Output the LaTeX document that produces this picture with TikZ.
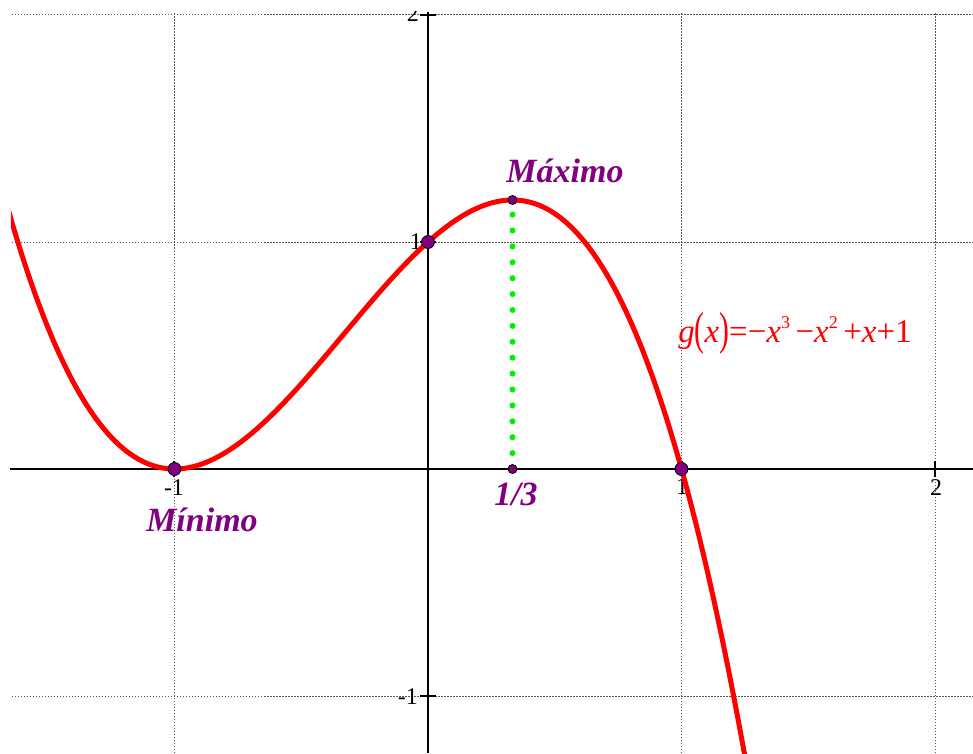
\documentclass[tikz,border=0pt]{standalone}
\usepackage{fontspec}
\setmainfont{Liberation Serif}
\usepackage{graphicx}
\definecolor{purp}{RGB}{128,0,128}
\definecolor{grn}{RGB}{0,240,0}
\newcommand\mysupr[1]{\raisebox{0.42em}{\fontsize{18}{18}\selectfont #1}}
\newcommand\mypar[1]{\raisebox{-0.08em}{\scalebox{0.9}[1.4]{#1}}}
\begin{document}
\begin{tikzpicture}[x=1pt,y=1pt,
 gridline/.style={black!65, line width=1pt, dash pattern=on 1.5pt off 1.5pt},
 axisline/.style={black, line width=2.8pt},
 tickline/.style={black, line width=2pt},
 ticklab/.style={font=\fontsize{24}{24}\selectfont, inner sep=0pt},
 ptlarge/.style={circle, fill=purp, draw=black, line width=0.8pt, minimum size=13pt, inner sep=0pt},
 ptsmall/.style={circle, fill=purp, draw=black, line width=0.8pt, minimum size=9pt, inner sep=0pt},
 biglab/.style={text=purp, font=\fontsize{34}{34}\selectfont\bfseries\itshape, inner sep=0pt},
 formula/.style={text=red, font=\fontsize{33}{33}\selectfont, inner sep=0pt},
 curve/.style={red, line width=5pt},
 greendots/.style={grn, line width=6pt, line cap=round, dash pattern=on 0pt off 15.9pt}]
\useasboundingbox (-428,-284) rectangle (545,469);
% grid
\foreach \y in {454,227,-227} \draw[gridline] (-416,\y) -- (545,\y);
\foreach \x in {-253.5,253.5,507} \draw[gridline] (\x,-284) -- (\x,457);
% axes
\coordinate (xl) at (-418,0);
\coordinate (xr) at (545,0);
\coordinate (yb) at (0,-284);
\coordinate (yt) at (0,457);
\draw[axisline] (xl) -- (xr);
\draw[axisline] (yb) -- (yt);
\foreach \x in {-253.5,253.5,507} \draw[tickline] (\x,-8) -- (\x,8);
\foreach \y in {454,227,-227} \draw[tickline] (-8,\y) -- (8,\y);
% tick labels
\begin{scope}
\clip (-428,-284) rectangle (545,457);
\node[ticklab, anchor=south east] (ly2) at (-9,447) {2};
\end{scope}
\node[ticklab, anchor=south east] (ly1) at (-6,219) {1};
\node[ticklab, anchor=south east] (lym1) at (-10,-236) {-1};
\node[ticklab, anchor=north] (lxm1) at (-254,-10) {-1};
\node[ticklab, anchor=north] (lx1) at (254,-9) {1};
\node[ticklab, anchor=north] (lx2) at (508,-10) {2};
% curve
\begin{scope}
\clip (-417,-284) rectangle (545,469);
\draw[curve] plot[domain=-1.7:1.3, samples=200] ({253.5*\x},{227*(-(\x)^3-(\x)^2+\x+1)});
\end{scope}
% green dotted line
\coordinate (cmax) at (84.5,269);
\coordinate (cthird) at (84.5,0);
\draw[greendots] (cthird) -- (cmax);
% points
\node[ptlarge] (pmin) at (-253.5,0) {};
\node[ptlarge] (pint) at (0,227) {};
\node[ptlarge] (proot) at (253.5,0) {};
\node[ptsmall] (pmax) at (cmax) {};
\node[ptsmall] (pthird) at (cthird) {};
% labels
\node[biglab] (lmax) at (137,298) {Máximo};
\node[biglab] (lmin) at (-226,-51) {Mínimo};
\node[biglab] (lthird) at (88,-25) {1/3};
\node[formula, anchor=base] (form) at (367,127) {\textit{g}\mypar{(}\textit{x}\mypar{)}=−\textit{x}\mysupr{3}\,−\textit{x}\mysupr{2}\,+\textit{x}+1};
\end{tikzpicture}
\end{document}
